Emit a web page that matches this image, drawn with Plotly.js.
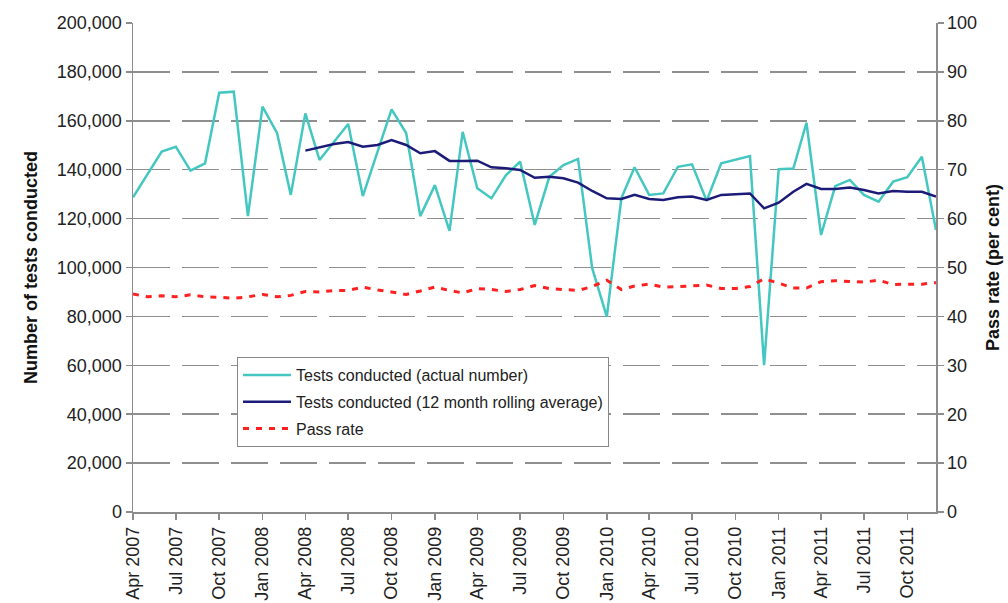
<!DOCTYPE html>
<html>
<head>
<meta charset="utf-8">
<script src="https://cdn.plot.ly/plotly-3.0.1.min.js"></script>
<style>
html,body{margin:0;padding:0;background:#fff;}
#chart{width:1008px;height:603px;}
</style>
</head>
<body>
<div id="chart"></div>
<script>
// Months (Apr 2007 - Dec 2011)
const months = [
 "2007-04","2007-05","2007-06","2007-07","2007-08","2007-09","2007-10","2007-11","2007-12",
 "2008-01","2008-02","2008-03","2008-04","2008-05","2008-06","2008-07","2008-08","2008-09","2008-10","2008-11","2008-12",
 "2009-01","2009-02","2009-03","2009-04","2009-05","2009-06","2009-07","2009-08","2009-09","2009-10","2009-11","2009-12",
 "2010-01","2010-02","2010-03","2010-04","2010-05","2010-06","2010-07","2010-08","2010-09","2010-10","2010-11","2010-12",
 "2011-01","2011-02","2011-03","2011-04","2011-05","2011-06","2011-07","2011-08","2011-09","2011-10","2011-11","2011-12"
];

// Tests conducted (actual number)
const testsActual = [
 128700,138000,147400,149400,139600,142600,171500,171900,121000,
 165800,154900,129700,163000,144000,151500,158700,129200,147000,164700,155000,121000,
 133700,115000,155500,132400,128300,137800,143300,117400,137100,141900,144400,99700,
 79900,128400,141000,129700,130300,141200,142200,127300,142600,144000,145600,60100,
 140200,140500,159200,113300,133300,135800,129700,126900,135100,136900,145300,115300
];

// Tests conducted (12 month rolling average)
const testsRolling = [
 null,null,null,null,null,null,null,null,null,
 null,null,null,147800,149000,150500,151300,149400,150100,152100,150100,146700,
 147600,143600,143600,143700,141000,140600,139900,136700,137100,136500,134700,131300,
 128300,128000,129700,128000,127600,128700,129000,127600,129700,130100,130300,124200,
 126500,131000,134200,132100,132100,132700,131700,130300,131300,131000,131000,129000
];

// Pass rate (per cent)
const passRate = [
 44.6,44.0,44.2,44.0,44.4,44.0,43.9,43.7,44.0,
 44.5,44.0,44.3,45.1,45.0,45.3,45.3,46.0,45.4,45.0,44.5,45.2,
 46.0,45.3,44.8,45.7,45.5,45.1,45.5,46.3,45.7,45.5,45.3,46.1,
 47.4,45.5,46.2,46.6,46.0,46.1,46.2,46.4,45.7,45.7,46.1,47.7,
 46.8,45.8,45.8,47.1,47.3,47.2,47.0,47.4,46.5,46.6,46.6,46.9
];

const tickMonths = ["2007-04","2007-07","2007-10","2008-01","2008-04","2008-07","2008-10","2009-01","2009-04","2009-07","2009-10","2010-01","2010-04","2010-07","2010-10","2011-01","2011-04","2011-07","2011-10"];
const tickLabels = ["Apr 2007","Jul 2007","Oct 2007","Jan 2008","Apr 2008","Jul 2008","Oct 2008","Jan 2009","Apr 2009","Jul 2009","Oct 2009","Jan 2010","Apr 2010","Jul 2010","Oct 2010","Jan 2011","Apr 2011","Jul 2011","Oct 2011"];

const FONT = "Arial, 'Liberation Sans', sans-serif";
const AXISGRAY = "#8c8c8c";

const traces = [
 {x: months, y: testsActual, type: "scatter", mode: "lines", name: "Tests conducted (actual number)",
  line: {color: "#45c7c1", width: 2.5}, legendgroup: "a"},
 {x: months, y: testsRolling, type: "scatter", mode: "lines", name: "Tests conducted (12 month rolling average)",
  line: {color: "#1c1c78", width: 2.5}, legendgroup: "b"},
 {x: months, y: passRate, type: "scatter", mode: "lines", name: "Pass rate", yaxis: "y2",
  line: {color: "#ff2020", width: 3, dash: "6px,7px"}, legendgroup: "c"}
];

const layout = {
 width: 1008, height: 603,
 margin: {l: 133, r: 72, t: 23, b: 91},
 paper_bgcolor: "#fff", plot_bgcolor: "#fff",
 font: {family: FONT, size: 18, color: "#222"},
 showlegend: true,
 legend: {x: 0.1295, y: 0.317, xanchor: "left", yanchor: "top",
  bgcolor: "#fff", bordercolor: "#888", borderwidth: 1,
  font: {family: FONT, size: 16, color: "#222"},
  traceorder: "grouped", tracegroupgap: 3, itemwidth: 48},
 xaxis: {
  type: "date", range: ["2007-04-01", "2011-12-01"],
  tickvals: tickMonths, ticktext: tickLabels, tickangle: -90,
  showgrid: false, zeroline: false,
  showline: true, linecolor: AXISGRAY, linewidth: 1.5,
  ticks: "outside", ticklen: 6, tickcolor: AXISGRAY, tickwidth: 1.5,
  tickfont: {family: FONT, size: 18, color: "#222"}
 },
 yaxis: {
  range: [0, 200000], dtick: 20000, tickformat: ",d",
  showgrid: true, gridcolor: "#8f8f8f", gridwidth: 1.5, griddash: "37px,12px",
  zeroline: false, showline: true, linecolor: AXISGRAY, linewidth: 1.5,
  ticks: "outside", ticklen: 6, tickcolor: AXISGRAY, tickwidth: 1.5,
  tickfont: {family: FONT, size: 18, color: "#222"},
  title: {text: "Number of tests conducted", font: {family: FONT, size: 18, color: "#111", weight: "bold"}, standoff: 14}
 },
 yaxis2: {
  overlaying: "y", side: "right", range: [0, 100], dtick: 10,
  showgrid: false, zeroline: false, showline: true, linecolor: AXISGRAY, linewidth: 1.5,
  ticks: "outside", ticklen: 6, tickcolor: AXISGRAY, tickwidth: 1.5,
  tickfont: {family: FONT, size: 18, color: "#222"},
  title: {text: "Pass rate (per cent)", font: {family: FONT, size: 18, color: "#111", weight: "bold"}, standoff: 10}
 }
};

Plotly.newPlot("chart", traces, layout, {displayModeBar: false, staticPlot: true});
</script>
</body>
</html>
